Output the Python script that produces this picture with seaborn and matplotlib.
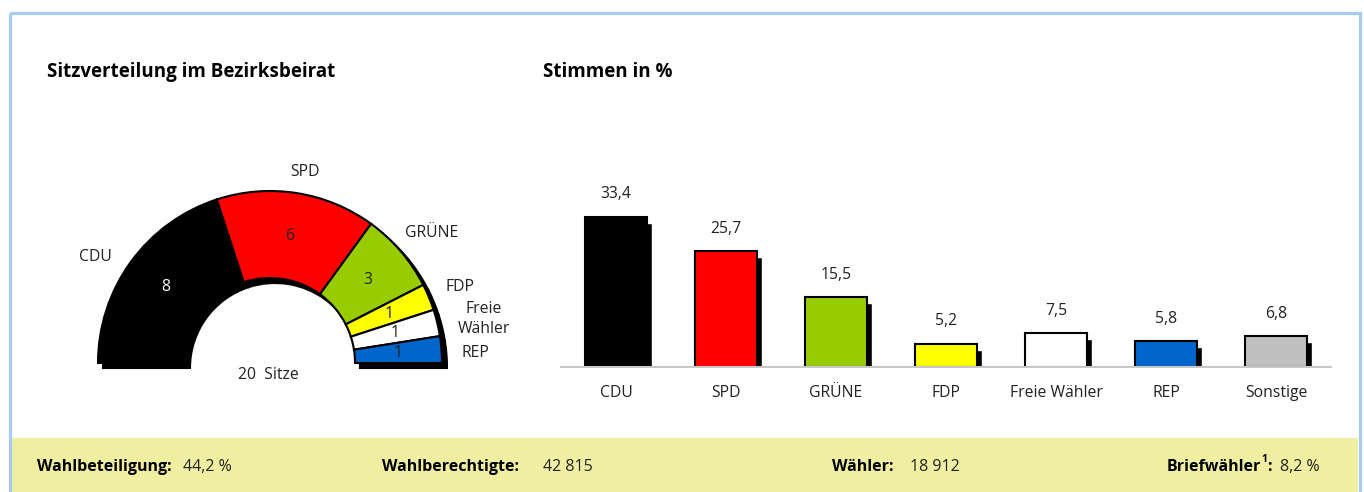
import numpy as np
import pandas as pd
import matplotlib
matplotlib.use('Agg')
import matplotlib.pyplot as plt
from matplotlib.patches import Rectangle
import seaborn as sns

# Sitzverteilung (Bezirksbeirat)
seat_parties = ['CDU', 'SPD', 'GRÜNE', 'FDP', 'Freie\nWähler', 'REP']
seats = [8, 6, 3, 1, 1, 1]
seat_colors = ['#000000', '#ff0000', '#99cc00', '#ffff00', '#ffffff', '#0066cc']
seat_num_colors = ['white', '#222222', '#222222', '#222222', '#222222', '#222222']

# Stimmen in %
parties = ['CDU', 'SPD', 'GRÜNE', 'FDP', 'Freie Wähler', 'REP', 'Sonstige']
votes = [33.4, 25.7, 15.5, 5.2, 7.5, 5.8, 6.8]
bar_colors = ['#000000', '#ff0000', '#99cc00', '#ffff00', '#ffffff', '#0066cc', '#c0c0c0']

# Kennzahlen
footer_labels = ['Wahlbeteiligung:', 'Wahlberechtigte:', 'Wähler:']
footer_values = ['44,2 %', '42 815', '18 912']
brief_value = '8,2 %'

W, H = 1364, 492
sns.set_theme(style='white')
plt.rcParams['font.family'] = ['Open Sans', 'DejaVu Sans']
txt = '#222222'
fs = 11.3      # labels
fs_foot = 11.5

fig = plt.figure(figsize=(W / 100, H / 100), dpi=100)

# background: frame, footer band, texts (pixel coords, y down)
bg = fig.add_axes([0, 0, 1, 1], zorder=-5)
bg.set_xlim(0, W)
bg.set_ylim(H, 0)
bg.axis('off')
bg.add_patch(Rectangle((11, 438), 1347, 60, facecolor='#f0eea0', edgecolor='none'))
bg.add_patch(Rectangle((9.5, 12.5), 1350, 490, facecolor='none', edgecolor='#a8cbf0', lw=2.3))
bg.text(47, 72, 'Sitzverteilung im Bezirksbeirat', fontsize=13.5, fontweight='bold', va='center', color='black')
bg.text(543, 72, 'Stimmen in %', fontsize=13.5, fontweight='bold', va='center', color='black')

label_x = [37, 382, 832]
value_x = [183, 543, 910]
for lab, val, lx, vx in zip(footer_labels, footer_values, label_x, value_x):
    bg.text(lx, 467, lab, fontsize=fs_foot, fontweight='bold', va='center', color='black')
    bg.text(vx, 467, val, fontsize=fs_foot, va='center', color=txt)
bg.text(1261, 467, 'Briefwähler', fontsize=fs_foot, fontweight='bold', va='center', ha='right', color='black')
bg.text(1261, 460, '1', fontsize=7.5, fontweight='bold', va='center', ha='left', color='black')
bg.text(1267, 467, ':', fontsize=fs_foot, fontweight='bold', va='center', ha='left', color='black')
bg.text(1280, 467, brief_value, fontsize=fs_foot, va='center', color=txt)

# ---- half donut (pixel coords, y up) ----
axp = fig.add_axes([60 / W, (H - 400) / H, 460 / W, 250 / H])
cx, cy = 270, H - 363
R, r_in = 172, 85
fracs = np.array(seats) / (2 * sum(seats))
axp.pie(fracs, normalize=False, startangle=180, counterclock=False, radius=R,
        center=(cx + 5, cy - 5), colors=['black'] * len(seats),
        wedgeprops=dict(width=R - r_in, edgecolor='black', linewidth=1.5))
axp.pie(fracs, normalize=False, startangle=180, counterclock=False, radius=R,
        center=(cx, cy), colors=seat_colors,
        wedgeprops=dict(width=R - r_in, edgecolor='black', linewidth=1.5))
axp.set_xlim(60, 520)
axp.set_ylim(92, 342)

# seat numbers inside wedges
edges = 180 - np.cumsum([0] + seats) * 180 / sum(seats)
for i, n in enumerate(seats):
    mid = np.deg2rad((edges[i] + edges[i + 1]) / 2)
    rr = (R + r_in) / 2
    axp.text(cx + rr * np.cos(mid), cy + rr * np.sin(mid), str(n), ha='center', va='center',
             fontsize=fs, color=seat_num_colors[i])

label_pos = [(95, 257), (305, 172), (432, 233), (460, 287), (484, 319), (475, 353)]
for lab, (lx, ly) in zip(seat_parties, label_pos):
    axp.text(lx, H - ly, lab, ha='center', va='center', fontsize=fs, color=txt, linespacing=1.35)
axp.text(268, H - 375, f'{sum(seats)}  Sitze', ha='center', va='center', fontsize=fs, color=txt)

# ---- bar chart ----
axb = fig.add_axes([561 / W, (H - 367) / H, 770 / W, 187 / H])
df = pd.DataFrame({'Partei': parties, 'Stimmen': votes})
xs = np.arange(len(parties))
bw = 0.565
axb.bar(xs + 5 / 110, np.array(votes) - 6 / 4.5, width=bw, color='black', zorder=1)
sns.barplot(data=df, x='Partei', y='Stimmen', hue='Partei', palette=bar_colors, legend=False,
            width=bw, edgecolor='black', linewidth=1.5, saturation=1, ax=axb, zorder=2)
for x, v in zip(xs, votes):
    axb.annotate(f'{v:.1f}'.replace('.', ','), (x, v), xytext=(0, 16), textcoords='offset points',
                 ha='center', va='center', fontsize=fs, color=txt)
axb.set_xlim(-0.5, len(parties) - 0.5)
axb.set_ylim(0, 187 / 4.5)
axb.set_xlabel('')
axb.set_ylabel('')
axb.set_yticks([])
axb.tick_params(axis='x', length=0, pad=13, labelsize=fs, labelcolor=txt)
for s in ['top', 'left', 'right']:
    axb.spines[s].set_visible(False)
axb.spines['bottom'].set_color('#c8c8c8')
axb.spines['bottom'].set_linewidth(1.5)
axb.patch.set_alpha(0)

fig.savefig('out.png', dpi=100)
